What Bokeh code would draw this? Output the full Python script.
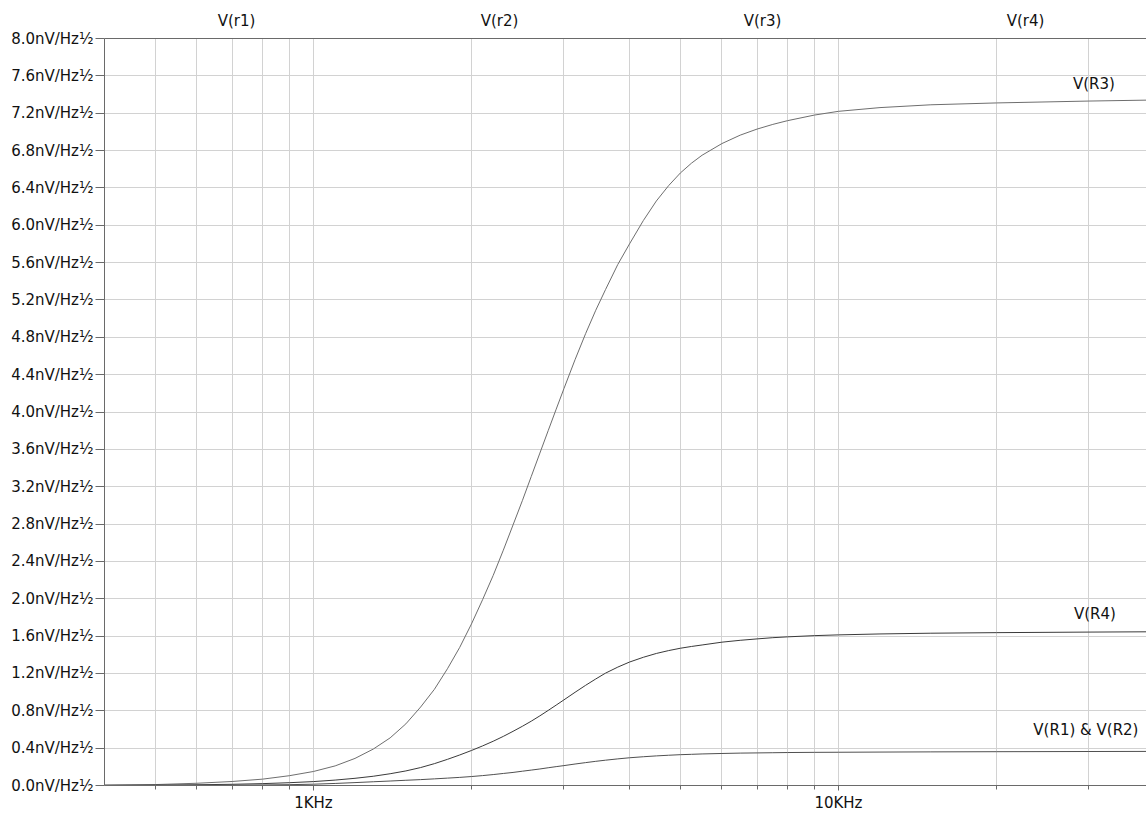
from bokeh.plotting import figure
from bokeh.models import (Range1d, LinearAxis, LinearScale, FixedTicker,
                          PrintfTickFormatter, Label, ColumnDataSource)
from bokeh.embed import file_html
from bokeh.resources import INLINE

# ---------------- data ----------------
freq = [400, 500, 600, 700, 800, 900, 1000, 1100, 1200, 1300,
        1400, 1500, 1600, 1700, 1800, 1900, 2000, 2100, 2200, 2300,
        2400, 2500, 2600, 2700, 2800, 2900, 3000, 3150, 3300, 3450,
        3600, 3800, 4000, 4250, 4500, 4750, 5000, 5250, 5500, 6000, 6500,
        7000, 7500, 8000, 9000, 10000, 12000, 15000, 20000, 30000, 38700]

v_r3 = [0.004, 0.01, 0.024, 0.043, 0.068, 0.105, 0.15, 0.21, 0.29, 0.39,
        0.51, 0.66, 0.84, 1.03, 1.25, 1.48, 1.73, 1.99, 2.25, 2.52,
        2.79, 3.05, 3.31, 3.56, 3.80, 4.03, 4.25, 4.56, 4.84, 5.09,
        5.31, 5.58, 5.80, 6.05, 6.26, 6.425, 6.56, 6.665, 6.75, 6.875, 6.965,
        7.03, 7.08, 7.12, 7.18, 7.22, 7.26, 7.29, 7.31, 7.33, 7.34]

v_r4 = [0.002, 0.004, 0.008, 0.013, 0.02, 0.03, 0.042, 0.058, 0.077, 0.099,
        0.126, 0.156, 0.192, 0.234, 0.28, 0.327, 0.375, 0.424, 0.474, 0.526,
        0.58, 0.634, 0.689, 0.746, 0.804, 0.861, 0.917, 0.998, 1.073, 1.141,
        1.203, 1.268, 1.322, 1.373, 1.414, 1.445, 1.47, 1.489, 1.505, 1.535, 1.555,
        1.57, 1.583, 1.592, 1.605, 1.613, 1.623, 1.631, 1.637, 1.643, 1.646]

v_r1_r2 = [0.001, 0.002, 0.003, 0.004, 0.006, 0.009, 0.014, 0.022, 0.031, 0.04,
           0.048, 0.056, 0.063, 0.071, 0.079, 0.087, 0.096, 0.106, 0.117, 0.129,
           0.14, 0.153, 0.165, 0.177, 0.19, 0.202, 0.213, 0.23, 0.245, 0.259,
           0.271, 0.285, 0.297, 0.308, 0.317, 0.324, 0.33, 0.334, 0.338, 0.343, 0.347,
           0.349, 0.351, 0.353, 0.355, 0.356, 0.358, 0.36, 0.362, 0.364, 0.365]

series_names = ["V(R3)", "V(R4)", "V(R1) & V(R2)"]
top_labels = ["V(r1)", "V(r2)", "V(r3)", "V(r4)"]
y_ticks = [0.0, 0.4, 0.8, 1.2, 1.6, 2.0, 2.4, 2.8, 3.2, 3.6, 4.0, 4.4, 4.8, 5.2,
           5.6, 6.0, 6.4, 6.8, 7.2, 7.6, 8.0]
x_major = [1000, 10000]
x_major_labels = ["1KHz", "10KHz"]
x_minor = [500, 600, 700, 800, 900, 2000, 3000, 4000, 5000, 6000, 7000, 8000,
           9000, 20000, 30000]
label_freq = 30000

# ---------------- styling ----------------
FONT = "DejaVu Sans"
FS = "15px"
AXIS_COL = "#6a6a6a"
GRID_COL = "#d2d2d2"
TEXT_COL = "#111111"

W, H = 1146, 814
BL, BT, BB = 104, 38, 29
FW = W - BL
x_start = 400
x_end = 10 ** (2.60206 + FW / 525.0)

p = figure(width=W, height=H, x_axis_type="log",
           x_range=Range1d(x_start, x_end), y_range=Range1d(0, 8),
           output_backend="svg", toolbar_location=None,
           min_border_left=BL, min_border_right=0,
           min_border_top=BT, min_border_bottom=BB)
p.outline_line_color = None
p.background_fill_color = "white"
p.border_fill_color = "white"

# x axis
xt = FixedTicker(ticks=x_major, minor_ticks=x_minor)
xa = p.xaxis[0]
xa.ticker = xt
xa.major_label_overrides = {k: v for k, v in zip(x_major, x_major_labels)}
xa.axis_line_color = AXIS_COL
xa.major_tick_line_color = AXIS_COL
xa.minor_tick_line_color = AXIS_COL
xa.major_tick_in = 0
xa.major_tick_out = 5
xa.minor_tick_in = 0
xa.minor_tick_out = 4
xa.major_label_standoff = 3
xa.major_label_text_font = FONT
xa.major_label_text_font_size = FS
xa.major_label_text_color = TEXT_COL

# y axis
ya = p.yaxis[0]
ya.ticker = FixedTicker(ticks=y_ticks)
ya.formatter = PrintfTickFormatter(format="%.1fnV/Hz½")
ya.axis_line_color = AXIS_COL
ya.major_tick_line_color = AXIS_COL
ya.minor_tick_line_color = None
ya.major_tick_in = 0
ya.major_tick_out = 9
ya.major_label_standoff = 2
ya.major_label_text_font = FONT
ya.major_label_text_font_size = FS
ya.major_label_text_color = TEXT_COL

# grids
p.xgrid.ticker = xt
p.xgrid.grid_line_color = GRID_COL
p.xgrid.minor_grid_line_color = GRID_COL
p.ygrid.ticker = FixedTicker(ticks=y_ticks)
p.ygrid.grid_line_color = GRID_COL

# top labels as a linear axis above
spacing = 263.0
p.extra_x_ranges = {"top": Range1d(-0.502, -0.502 + FW / spacing)}
p.extra_x_scales = {"top": LinearScale()}
ta = LinearAxis(x_range_name="top",
                ticker=FixedTicker(ticks=list(range(len(top_labels)))),
                major_label_overrides={i: t for i, t in enumerate(top_labels)})
ta.axis_line_color = AXIS_COL
ta.major_tick_line_color = None
ta.minor_tick_line_color = None
ta.major_label_standoff = 3
ta.major_label_text_font = FONT
ta.major_label_text_font_size = FS
ta.major_label_text_color = TEXT_COL
p.add_layout(ta, "above")

# curves
src = ColumnDataSource(dict(f=freq, r3=v_r3, r4=v_r4, r12=v_r1_r2))
p.line("f", "r3", source=src, line_color="#6e6e6e", line_width=1)
p.line("f", "r4", source=src, line_color="#3a3a3a", line_width=1)
p.line("f", "r12", source=src, line_color="#505050", line_width=1)

# curve labels
for name, vals, dx, dy in zip(series_names, [v_r3, v_r4, v_r1_r2],
                              [5, 6, -3], [16, 18, 21]):
    p.add_layout(Label(x=label_freq, y=vals[-1], text=name, x_offset=dx,
                       y_offset=dy, text_align="center", text_baseline="middle",
                       text_font=FONT, text_font_size=FS, text_color=TEXT_COL))

open("out.html", "w").write(file_html(p, INLINE))
